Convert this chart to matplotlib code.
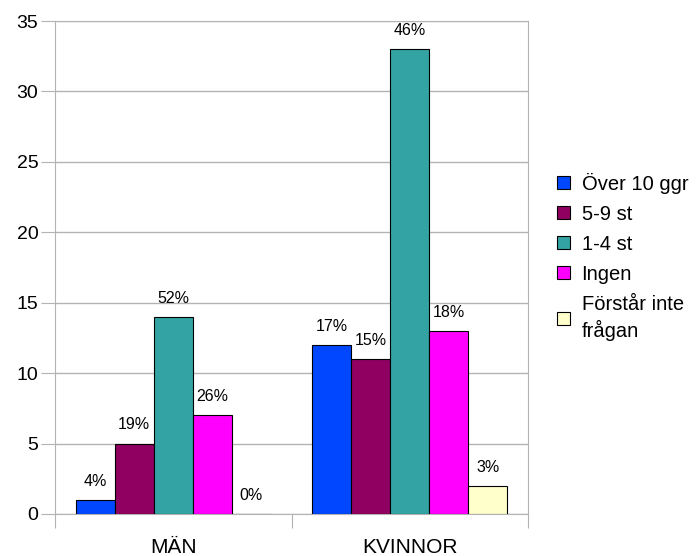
import matplotlib.pyplot as plt
import numpy as np

plt.rcParams['font.family'] = ['Liberation Sans', 'DejaVu Sans']

groups = ['MÄN', 'KVINNOR']
series = ['Över 10 ggr', '5-9 st', '1-4 st', 'Ingen', 'Förstår inte\nfrågan']
values = [[1, 12], [5, 11], [14, 33], [7, 13], [0, 2]]
percent = [['4%', '17%'], ['19%', '15%'], ['52%', '46%'], ['26%', '18%'], ['0%', '3%']]
colors = ['#0047ff', '#8f0060', '#33a3a3', '#ff00ff', '#ffffcc']

fig = plt.figure(figsize=(6.96, 5.56), dpi=100)
ax = fig.add_axes([55 / 696, 1 - 514 / 556, (528 - 55) / 696, (514 - 21) / 556])

x = np.arange(len(groups))
w = 0.165
for i, s in enumerate(series):
    pos = x + (i - 2) * w
    ax.bar(pos, values[i], width=w, color=colors[i], edgecolor='black',
           linewidth=0.8, label=s, zorder=3)
    for p, v, t in zip(pos, values[i], percent[i]):
        ax.annotate(t, (p, v), xytext=(0, 8), textcoords='offset points',
                    ha='center', va='bottom', fontsize=11.5)

ax.set_xlim(-0.5, 1.5)
ax.set_ylim(0, 35)
ax.set_yticks(range(0, 36, 5))
ax.yaxis.grid(True, color='#b3b3b3', linewidth=1, zorder=0)
ax.set_xticks([-0.5, 0.5, 1.5])
ax.set_xticklabels([])
ax.set_xticks(x, minor=True)
ax.set_xticklabels(groups, minor=True, fontsize=15)
ax.tick_params(axis='x', which='minor', length=0, pad=17)
ax.tick_params(axis='x', which='major', length=10, color='#b3b3b3')
ax.tick_params(axis='y', length=10, color='#b3b3b3', labelsize=14, pad=2)
for sp in ax.spines.values():
    sp.set_color('#b3b3b3')

leg = ax.legend(loc='center left', bbox_to_anchor=(1.045, 0.522), frameon=False,
                fontsize=14.5, handlelength=0.65, handleheight=0.65, handletextpad=0.55,
                labelspacing=0.55, borderaxespad=0)
leg.get_texts()[4].set_linespacing(1.35)

fig.savefig('out.png', dpi=100)
